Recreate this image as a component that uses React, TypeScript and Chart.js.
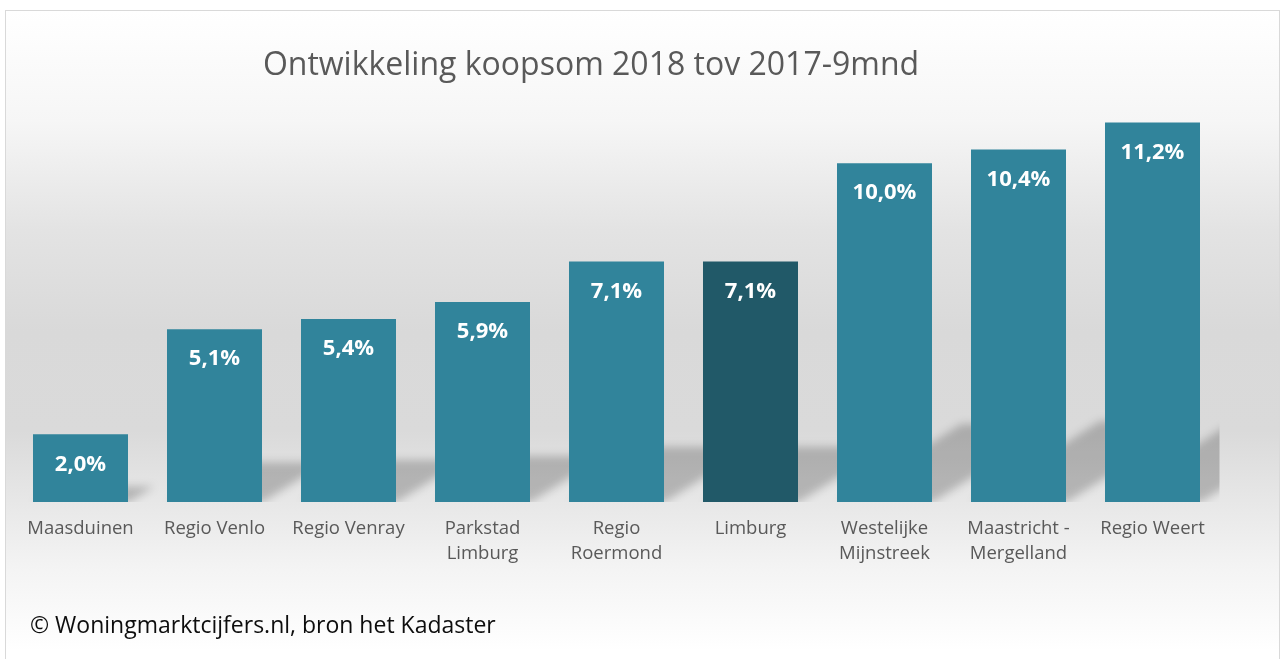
import React, { useEffect, useRef } from "react";
import { Chart, registerables } from "chart.js";

Chart.register(...registerables);

const categories: (string | string[])[] = [
  "Maasduinen",
  "Regio Venlo",
  "Regio Venray",
  ["Parkstad", "Limburg"],
  ["Regio", "Roermond"],
  "Limburg",
  ["Westelijke", "Mijnstreek"],
  ["Maastricht -", "Mergelland"],
  "Regio Weert",
];
const values: number[] = [2.0, 5.1, 5.4, 5.9, 7.1, 7.1, 10.0, 10.4, 11.2];
const barColors: string[] = [
  "#31849b", "#31849b", "#31849b", "#31849b", "#31849b",
  "#215968", "#31849b", "#31849b", "#31849b",
];
const titleText = "Ontwikkeling koopsom 2018 tov 2017-9mnd";
const footerText = "© Woningmarktcijfers.nl, bron het Kadaster";

const FONT = "'Open Sans', 'Noto Sans', sans-serif";

const shadowPlugin = {
  id: "perspectiveShadow",
  beforeDatasetsDraw(chart: any) {
    const ctx = chart.ctx;
    const area = chart.chartArea;
    const meta = chart.getDatasetMeta(0);
    ctx.save();
    ctx.beginPath();
    ctx.rect(area.left, area.top, area.right - area.left, area.bottom - area.top);
    ctx.clip();
    ctx.filter = "blur(4px)";
    ctx.fillStyle = "rgba(0,0,0,0.21)";
    meta.data.forEach((bar: any) => {
      const { x, y, base, width } = bar.getProps(["x", "y", "base", "width"], true);
      const h = base - y;
      const sh = h * 0.23;
      const dx = h * 0.364;
      const x0 = x - width / 2;
      const x1 = x + width / 2;
      ctx.beginPath();
      ctx.moveTo(x0 + 1, base);
      ctx.lineTo(x1 + 1, base);
      ctx.lineTo(x1 + 1 + dx, base - sh);
      ctx.lineTo(x0 + 1 + dx, base - sh);
      ctx.closePath();
      ctx.fill();
    });
    ctx.restore();
  },
};

const labelPlugin = {
  id: "valueLabels",
  afterDatasetsDraw(chart: any) {
    const ctx = chart.ctx;
    const meta = chart.getDatasetMeta(0);
    const data = chart.data.datasets[0].data as number[];
    ctx.save();
    ctx.fillStyle = "#ffffff";
    ctx.font = `bold 22px ${FONT}`;
    ctx.textAlign = "center";
    ctx.textBaseline = "middle";
    meta.data.forEach((bar: any, i: number) => {
      const { x, y } = bar.getProps(["x", "y"], true);
      const txt = data[i].toFixed(1).replace(".", ",") + "%";
      ctx.fillText(txt, x, y + 30);
    });
    ctx.restore();
  },
};

export default function App() {
  const canvasRef = useRef<HTMLCanvasElement | null>(null);

  useEffect(() => {
    if (!canvasRef.current) return;
    const chart = new Chart(canvasRef.current, {
      type: "bar",
      data: {
        labels: categories,
        datasets: [
          {
            data: values,
            backgroundColor: barColors,
            borderWidth: 0,
            categoryPercentage: 1,
            barPercentage: 0.709,
          },
        ],
      },
      options: {
        animation: false,
        responsive: false,
        maintainAspectRatio: false,
        layout: { padding: { left: 13.5, right: 65.5, top: 95.4, bottom: 79 } },
        plugins: {
          legend: { display: false },
          title: { display: false },
          tooltip: { enabled: false },
        },
        scales: {
          x: {
            grid: { display: false, drawTicks: false },
            border: { display: false },
            ticks: {
              color: "#595959",
              font: { family: FONT, size: 18.5, lineHeight: 1.35 },
              padding: 14,
              maxRotation: 0,
              autoSkip: false,
            },
          },
          y: { display: false, min: 0, max: 12 },
        },
      },
      plugins: [shadowPlugin, labelPlugin],
    });
    return () => chart.destroy();
  }, []);

  return (
    <div style={{ position: "fixed", left: 0, top: 0, width: 1285, height: 659, background: "#ffffff", overflow: "hidden" }}>
      <div
        style={{
          position: "absolute",
          left: 5,
          top: 10,
          width: 1273,
          height: 660,
          border: "1px solid #d9d9d9",
          background:
            "linear-gradient(to bottom, #ffffff 0px, #f6f6f6 110px, #e3e3e3 220px, #d9d9d9 320px, #dadada 420px, #e9e9e9 500px, #f4f4f4 560px, #ffffff 640px)",
        }}
      />
      <canvas ref={canvasRef} width={1285} height={659} style={{ position: "absolute", left: 0, top: 0 }} />
      <div
        style={{
          position: "absolute",
          left: 0,
          width: 1182,
          top: 41,
          textAlign: "center",
          fontFamily: FONT,
          fontSize: 32,
          color: "#595959",
          whiteSpace: "nowrap",
        }}
      >
        {titleText}
      </div>
      <div
        style={{
          position: "absolute",
          left: 30,
          top: 608,
          fontFamily: FONT,
          fontSize: 23,
          color: "#0d0d0d",
          whiteSpace: "nowrap",
        }}
      >
        {footerText}
      </div>
    </div>
  );
}
